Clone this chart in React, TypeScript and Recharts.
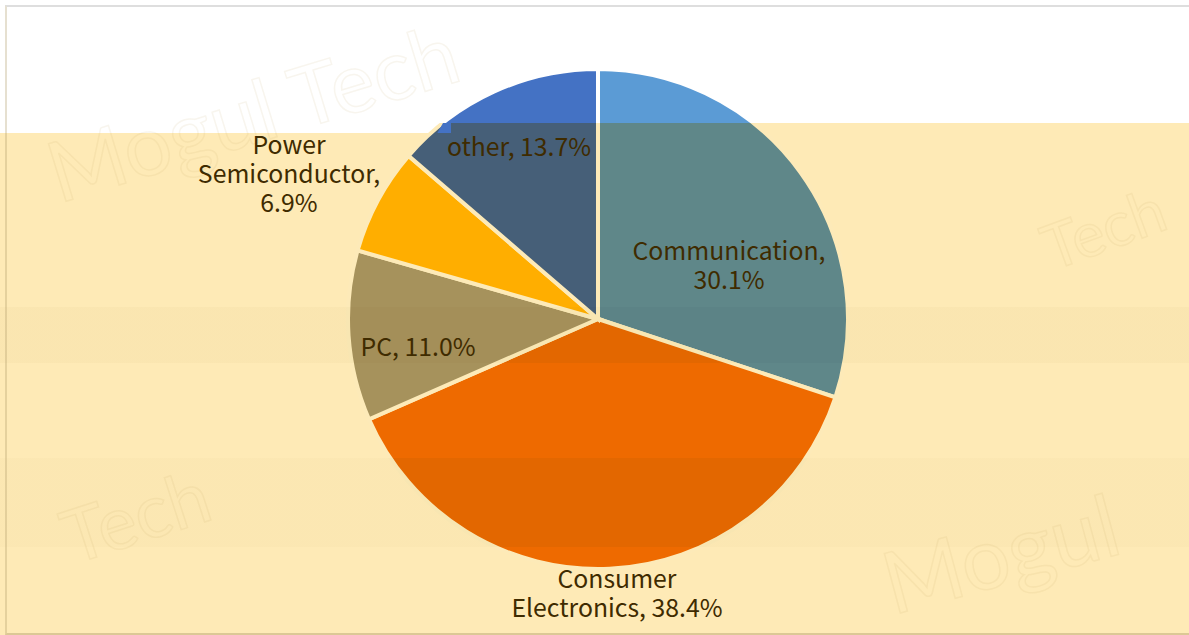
import { PieChart, Pie, Cell } from 'recharts'

const categories = ['Communication', 'Consumer Electronics', 'PC', 'Power Semiconductor', 'other']
const shares = [30.1, 38.4, 11.0, 6.9, 13.7]
const labelLines = [
  ['Communication,', '30.1%'],
  ['Consumer', 'Electronics, 38.4%'],
  ['PC, 11.0%'],
  ['Power', 'Semiconductor,', '6.9%'],
  ['other, 13.7%'],
]

// colours above the yellow band, inside it, and in the darker stripes
const topColors = ['#5B9BD5', '#ED7D31', '#A5A5A5', '#FFC000', '#4472C4']
const bandColors = ['#5F8789', '#EE6A00', '#A6925C', '#FFAE00', '#465F78']
const stripeColors = ['#5C8386', '#E36700', '#A48F59', '#FBAB00', '#445C75']

const W = 1189
const H = 635
const CX = 598
const CY = 319
const R = 250
const BAND_TOP = 123
const STRIPES = [[307, 363], [458, 547]]

const chartData = categories.map((name, i) => ({ name, value: shares[i] }))

// label centres
const labelPlace = [
  { x: 729, y: 263 },
  { x: 617, y: 591 },
  { x: 418, y: 345 },
  { x: 289, y: 172 },
  { x: 519, y: 145 },
]

const stop = (y: number, color: string) => <stop key={`${y}-${color}`} offset={y / H} stopColor={color} />

function sliceStops(top: string, band: string, stripe: string) {
  return [
    stop(BAND_TOP, top),
    stop(BAND_TOP, band),
    stop(STRIPES[0][0], band),
    stop(STRIPES[0][0], stripe),
    stop(STRIPES[0][1], stripe),
    stop(STRIPES[0][1], band),
    stop(STRIPES[1][0], band),
    stop(STRIPES[1][0], stripe),
    stop(STRIPES[1][1], stripe),
    stop(STRIPES[1][1], band),
  ]
}

function renderLabel(props: any) {
  const lines = labelLines[props.index]
  const place = labelPlace[props.index]
  const lh = 29
  const y0 = place.y - ((lines.length - 1) * lh) / 2
  return (
    <text
      x={place.x}
      y={y0}
      textAnchor="middle"
      dominantBaseline="central"
      fontFamily="'Noto Sans CJK SC', 'Noto Sans'"
      fontSize={24.8}
      fill="#3F2B00"
    >
      {lines.map((line, i) => (
        <tspan key={line} x={place.x} y={y0 + i * lh} dominantBaseline="central">{line}</tspan>
      ))}
    </text>
  )
}

const background = [
  'linear-gradient(to bottom, transparent 307px, rgba(190,160,90,0.06) 307px, rgba(190,160,90,0.06) 363px, transparent 363px)',
  'linear-gradient(to bottom, transparent 458px, rgba(190,160,90,0.04) 458px, rgba(190,160,90,0.04) 547px, transparent 547px)',
].join(',')

const watermarks = [
  { text: 'Mogul Tech', left: 40, top: 60, size: 84, rot: -17 },
  { text: 'Tech', left: 60, top: 470, size: 74, rot: -18 },
  { text: 'Tech', left: 1040, top: 190, size: 62, rot: -20 },
  { text: 'Mogul', left: 880, top: 500, size: 86, rot: -15 },
]

export default function App() {
  return (
    <div style={{ position: 'absolute', left: 0, top: 0, width: W, height: H, overflow: 'hidden', background: '#fff' }}>
      <div style={{ position: 'absolute', left: 0, top: 133, width: 445, height: H - 133, background: '#FEEAB6' }} />
      <div style={{ position: 'absolute', left: 445, top: BAND_TOP, width: W - 445, height: H - BAND_TOP, background: '#FEEAB6' }} />
      <div style={{ position: 'absolute', left: 0, top: 0, width: W, height: H, background }} />
      {watermarks.map((m, i) => (
        <div
          key={i}
          style={{
            position: 'absolute',
            left: m.left,
            top: m.top,
            fontFamily: 'Lato, sans-serif',
            fontSize: m.size,
            color: 'transparent',
            WebkitTextStroke: '1.5px rgba(190,160,90,0.10)',
            transform: `rotate(${m.rot}deg)`,
            whiteSpace: 'nowrap',
          }}
        >
          {m.text}
        </div>
      ))}
      <div style={{ position: 'absolute', left: 5, top: 5, width: W - 5, height: 626, borderLeft: '2px solid rgba(170,150,100,0.3)', borderTop: '2px solid #dedede', borderBottom: '2px solid rgba(170,150,100,0.4)' }} />
      <div style={{ position: 'absolute', left: 0, top: 0 }}>
        <PieChart width={W} height={H} margin={{ top: 0, right: 0, bottom: 0, left: 0 }}>
          <defs>
            {categories.map((_, i) => (
              <linearGradient key={i} id={`slice-${i}`} gradientUnits="userSpaceOnUse" x1="0" y1="0" x2="0" y2={H}>
                {sliceStops(topColors[i], bandColors[i], stripeColors[i])}
              </linearGradient>
            ))}
            <linearGradient id="edge" gradientUnits="userSpaceOnUse" x1="0" y1="0" x2="0" y2={H}>
              {sliceStops('#FFFFFF', '#FDEAB8', '#F8E6B2')}
            </linearGradient>
          </defs>
          <Pie
            data={chartData}
            dataKey="value"
            nameKey="name"
            cx={CX}
            cy={CY}
            outerRadius={R}
            startAngle={90}
            endAngle={-270}
            stroke="url(#edge)"
            strokeWidth={4}
            label={renderLabel}
            labelLine={false}
            isAnimationActive={false}
          >
            {chartData.map((_, i) => (
              <Cell key={`cell-${i}`} fill={`url(#slice-${i})`} />
            ))}
          </Pie>
        </PieChart>
      </div>
      {/* small seam where the two yellow panels meet on the blue slice */}
      <div style={{ position: 'absolute', left: 432, top: 123, width: 19, height: 10, background: '#4472C4', clipPath: 'polygon(58% 0, 100% 0, 100% 100%, 28% 100%)' }} />
    </div>
  )
}
